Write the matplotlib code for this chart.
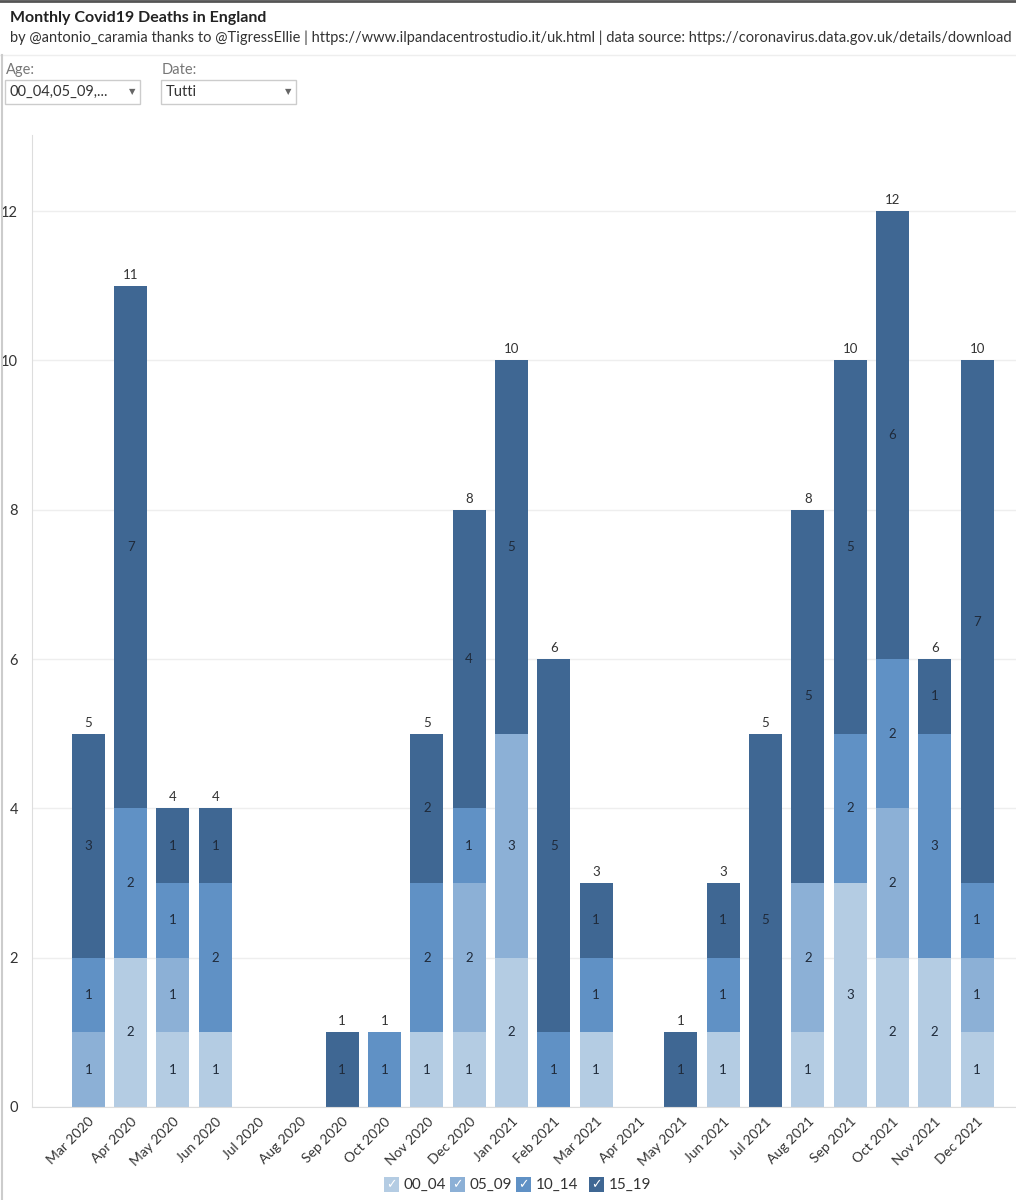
import matplotlib.pyplot as plt
from matplotlib.patches import Rectangle
import numpy as np

plt.rcParams['font.family'] = ['Lato', 'DejaVu Sans']

months = ["Mar 2020", "Apr 2020", "May 2020", "Jun 2020", "Jul 2020", "Aug 2020",
          "Sep 2020", "Oct 2020", "Nov 2020", "Dec 2020", "Jan 2021", "Feb 2021",
          "Mar 2021", "Apr 2021", "May 2021", "Jun 2021", "Jul 2021", "Aug 2021",
          "Sep 2021", "Oct 2021", "Nov 2021", "Dec 2021"]
age_groups = ["00_04", "05_09", "10_14", "15_19"]
d_00_04 = [0, 2, 1, 1, 0, 0, 0, 0, 1, 1, 2, 0, 1, 0, 0, 1, 0, 1, 3, 2, 2, 1]
d_05_09 = [1, 0, 1, 0, 0, 0, 0, 0, 0, 2, 3, 0, 0, 0, 0, 0, 0, 2, 0, 2, 0, 1]
d_10_14 = [1, 2, 1, 2, 0, 0, 0, 1, 2, 1, 0, 1, 1, 0, 0, 1, 0, 0, 2, 2, 3, 1]
d_15_19 = [3, 7, 1, 1, 0, 0, 1, 0, 2, 4, 5, 5, 1, 0, 1, 1, 5, 5, 5, 6, 1, 7]
colors = ["#b4cce3", "#8cb0d6", "#6091c5", "#3f6793"]

series = [d_00_04, d_05_09, d_10_14, d_15_19]

fig = plt.figure(figsize=(10.16, 12), dpi=100)
W, H = 1016, 1200

# intestazione
fig.text(10 / W, 1 - 18 / H, "Monthly Covid19 Deaths in England", fontsize=11.5,
         fontweight="bold", va="center", color="#222222")
fig.text(10 / W, 1 - 38 / H,
         "by @antonio_caramia thanks to @TigressEllie | https://www.ilpandacentrostudio.it/uk.html"
         " | data source: https://coronavirus.data.gov.uk/details/download",
         fontsize=10.5, va="center", color="#333333")
fig.add_artist(plt.Line2D([0, 1], [1 - 55 / H, 1 - 55 / H], color="#eeeeee", lw=1))
fig.add_artist(plt.Line2D([0, 1], [1 - 1 / H, 1 - 1 / H], color="#555555", lw=2))
fig.add_artist(plt.Line2D([1.5 / W, 1.5 / W], [0, 1 - 55 / H], color="#cccccc", lw=1.5))

# filtri
for lab, val, x0 in [("Age:", "00_04,05_09,...", 5), ("Date:", "Tutti", 161)]:
    fig.text((x0 + 1) / W, 1 - 70 / H, lab, fontsize=10.5, color="#777777", va="center")
    fig.add_artist(Rectangle((x0 / W, 1 - 104 / H), 135 / W, 24 / H,
                             transform=fig.transFigure, facecolor="white",
                             edgecolor="#cccccc", lw=1))
    fig.text((x0 + 5) / W, 1 - 92 / H, val, fontsize=10.5, color="#333333", va="center")
    fig.text((x0 + 127) / W, 1 - 92 / H, "▼", fontsize=6, color="#666666",
             va="center", ha="center")

ax = fig.add_axes([32 / W, 1 - 1107 / H, (W - 32) / W, (1107 - 135) / H])
x = np.arange(len(months))
bottom = np.zeros(len(months))
for vals, col in zip(series, colors):
    vals = np.array(vals)
    ax.bar(x, vals, bottom=bottom, width=0.78, color=col, zorder=2)
    for i, v in enumerate(vals):
        if v > 0:
            ax.text(x[i], bottom[i] + v / 2, str(v), ha="center", va="center",
                    fontsize=9.5, color="#1f2a3a", zorder=3)
    bottom += vals

totals = bottom
for i, t in enumerate(totals):
    if t > 0:
        ax.text(x[i], t + 0.07, str(int(t)), ha="center", va="bottom",
                fontsize=9.5, color="#333333")

ax.set_xlim(-1.33, 21.92)
ax.set_ylim(0, 13.02)
ax.set_yticks(range(0, 13, 2))
ax.set_xticks(x)
ax.set_xticklabels(months, rotation=45, ha="right", rotation_mode="anchor",
                   fontsize=10, color="#333333")
ax.tick_params(axis="y", labelsize=10.5, colors="#333333", length=0, pad=10)
ax.tick_params(axis="x", length=0, pad=6)
ax.grid(axis="y", color="#eeeeee", lw=1, zorder=0)
for s in ["top", "right"]:
    ax.spines[s].set_visible(False)
ax.spines["left"].set_color("#dddddd")
ax.spines["bottom"].set_color("#dddddd")

# legenda con caselle
leg_x = [384, 450, 516, 589]
for name, col, lx in zip(age_groups, colors, leg_x):
    fig.add_artist(Rectangle((lx / W, 1 - 1192 / H), 15 / W, 15 / H,
                             transform=fig.transFigure, facecolor=col, edgecolor="none"))
    fig.text((lx + 7.5) / W, 1 - 1184.5 / H, "✓", fontsize=9, color="white",
             ha="center", va="center", family=["DejaVu Sans"])
    fig.text((lx + 20) / W, 1 - 1184.5 / H, name, fontsize=11, color="#333333",
             va="center")

fig.savefig("out.png", dpi=100)
